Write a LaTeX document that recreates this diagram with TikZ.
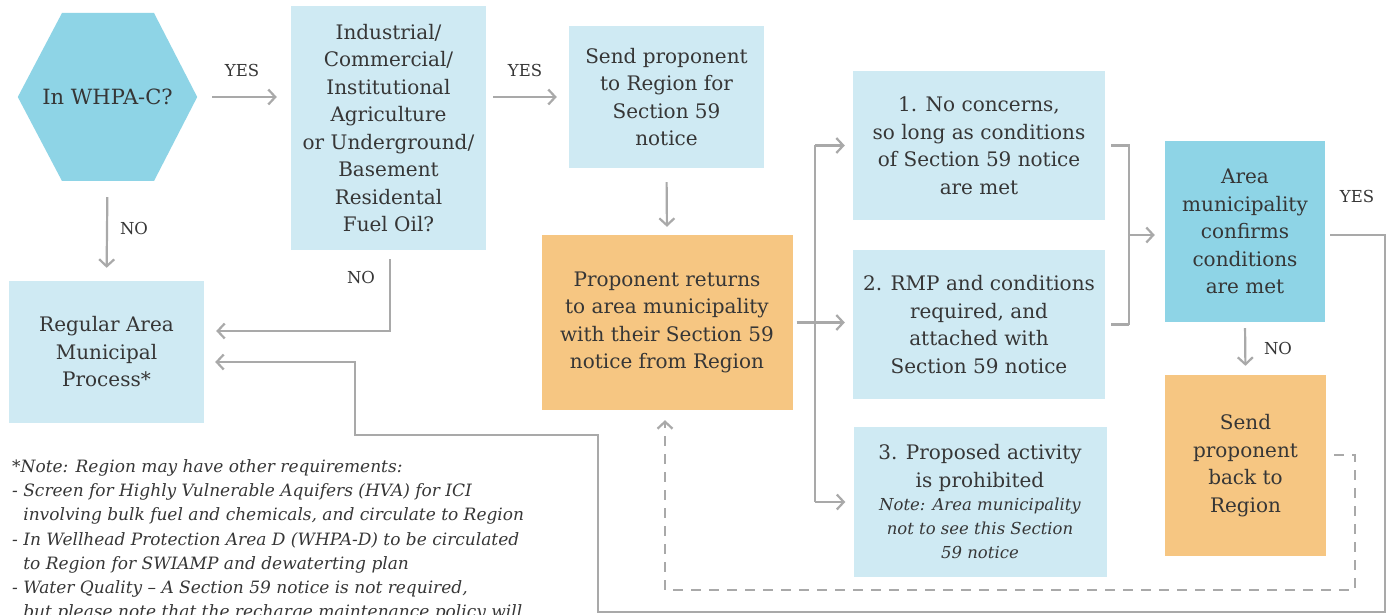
\documentclass[tikz,border=0pt]{standalone}
\usepackage{fontspec}
\setmainfont{DejaVu Serif}
\usetikzlibrary{arrows.meta,backgrounds,calc}
\definecolor{lb}{HTML}{CFEAF3}
\definecolor{db}{HTML}{8ED4E6}
\definecolor{og}{HTML}{F6C682}
\definecolor{ln}{HTML}{A9A9A9}
\definecolor{tx}{HTML}{363636}
\newcommand\mainsz{\fontsize{20}{27.5}\selectfont}
\newcommand\hexsz{\fontsize{21}{27.5}\selectfont}
\newcommand\notesz{\fontsize{17}{24.3}\selectfont}
\newcommand\cnotesz{\fontsize{16.5}{24}\selectfont}
\newcommand\labsz{\fontsize{16.5}{20}\selectfont}
\tikzset{
  box/.style={inner sep=0pt, align=center, text=tx, font=\mainsz},
  lbox/.style={box, fill=lb},
  dbox/.style={box, fill=db},
  obox/.style={box, fill=og},
  arr/.style={draw=ln, line width=2.2pt, -{Straight Barb[length=7pt,width=15pt]}},
  ln/.style={draw=ln, line width=2.2pt},
  dsh/.style={draw=ln, line width=2.2pt, dash pattern=on 10pt off 8pt},
  lab/.style={text=tx, font=\labsz, inner sep=0pt},
}
\begin{document}
\begin{tikzpicture}[x=1pt,y=-1pt]
\useasboundingbox (0,0) rectangle (1390,615);
\clip (0,0) rectangle (1390,615);

% nodes
\node[box, font=\hexsz, minimum width=179pt, minimum height=168pt] (hex) at (107.5,97) {In WHPA-C?};
\node[lbox, minimum width=195pt, minimum height=244pt] (ici) at (388.5,128) {Industrial/\\Commercial/\\Institutional\\Agriculture\\or Underground/\\Basement\\Residental\\Fuel Oil?};
\node[lbox, minimum width=195pt, minimum height=142pt] (send) at (666.5,97) {Send proponent\\to Region for\\Section 59\\notice};
\node[obox, minimum width=251pt, minimum height=175pt] (ret) at (667,322.5) {Proponent returns\\to area municipality\\with their Section 59\\notice from Region};
\node[lbox, minimum width=252pt, minimum height=149pt] (c1) at (979,145.5) {1. No concerns,\\so long as conditions\\of Section 59 notice\\are met};
\node[lbox, minimum width=252pt, minimum height=149pt] (c2) at (979,324.5) {2. RMP and conditions\\required, and\\attached with\\Section 59 notice};
\node[lbox, minimum width=253pt, minimum height=150pt] (c3) at (980,502) {3. Proposed activity\\is prohibited\\[-4pt]{\cnotesz\itshape Note: Area municipality}\\[-3.5pt]{\cnotesz\itshape not to see this Section}\\[-3.5pt]{\cnotesz\itshape 59 notice}};
\node[dbox, minimum width=160pt, minimum height=181pt] (amc) at (1245,231.5) {Area\\municipality\\confirms\\conditions\\are met};
\node[obox, minimum width=161pt, minimum height=181pt] (back) at (1245.5,465.5) {Send\\proponent\\back to\\Region};
\node[lbox, minimum width=195pt, minimum height=142pt] (reg) at (106.5,352) {Regular Area\\Municipal\\Process*};

\begin{scope}[on background layer]
\fill[white] (0,0) rectangle (1390,615);
\fill[db] (hex.west) -- (62,13) -- (154,13) -- (hex.east) -- (154,181) -- (62,181) -- cycle;
\end{scope}

% note text
\node[anchor=north west, align=left, inner sep=0pt, text=tx, font=\notesz\itshape] (note) at (12,459)
{*Note: Region may have other requirements:\\
- Screen for Highly Vulnerable Aquifers (HVA) for ICI\\
\phantom{- }involving bulk fuel and chemicals, and circulate to Region\\
- In Wellhead Protection Area D (WHPA-D) to be circulated\\
\phantom{- }to Region for SWIAMP and dewaterting plan\\
- Water Quality -- A Section 59 notice is not required,\\
\phantom{- }but please note that the recharge maintenance policy will};

% labels
\node[lab] (y1) at (242,70) {YES};
\node[lab] (y2) at (525,70) {YES};
\node[lab] (n1) at (134,228) {NO};
\node[lab] (n2) at (361,277) {NO};
\node[lab] (n3) at (1278,348) {NO};
\node[lab] (y3) at (1357,196) {YES};

% coordinates
\coordinate (k1) at (390,331);
\coordinate (br) at (815,322.5);
\coordinate (bk) at (1129,235);
\coordinate (r1) at (1385,235);
\coordinate (r2) at (1385,612);
\coordinate (r3) at (598,612);
\coordinate (r4) at (598,435);
\coordinate (r5) at (355,435);
\coordinate (r6) at (355,362);
\coordinate (d1) at (1355,455);
\coordinate (d2) at (1355,590);
\coordinate (d3) at (665,590);

% connectors
\draw[arr, shorten <=15pt, shorten >=14pt] (hex.east) -- (hex.east -| ici.west);
\draw[arr, shorten <=7pt, shorten >=12pt] (send.west -| ici.east) -- (send.west);
\draw[arr, shorten <=16pt, shorten >=13pt] (hex.south) -- (reg.north);
\draw[arr, shorten <=9pt, shorten >=12pt] (ici.south -| k1) -- (k1) -- (k1 -| reg.east);
\draw[arr, shorten <=14pt, shorten >=8pt] (send.south) -- (ret.north);
\draw[arr, shorten <=4pt, shorten >=8pt] (ret.east) -- (ret.east -| c2.west);
\draw[ln] (br |- c1.west) -- (br |- c3.west);
\draw[arr, shorten >=8pt] (br |- c1.west) -- (c1.west);
\draw[arr, shorten >=8pt] (br |- c3.west) -- (c3.west);
\draw[ln, shorten <=6pt] (c1.east) -- (c1.east -| bk) -- (c2.east -| bk);
\draw[ln, shorten <=6pt] (c2.east) -- (c2.east -| bk);
\draw[arr, shorten >=10pt] (bk) -- (bk -| amc.west);
\draw[arr, shorten <=6pt, shorten >=9pt] (amc.south) -- (back.north);
\draw[arr, shorten >=11pt] ([xshift=5pt]amc.east |- r1) -- (r1) -- (r2) -- (r3) -- (r4) -- (r5) -- (r6) -- (r6 -| reg.east);
\draw[dsh, -{Straight Barb[length=7pt,width=15pt]}, shorten >=10pt] ([xshift=8pt]back.east |- d1) -- (d1) -- (d2) -- (d3) -- (d3 |- ret.south);
\end{tikzpicture}
\end{document}
